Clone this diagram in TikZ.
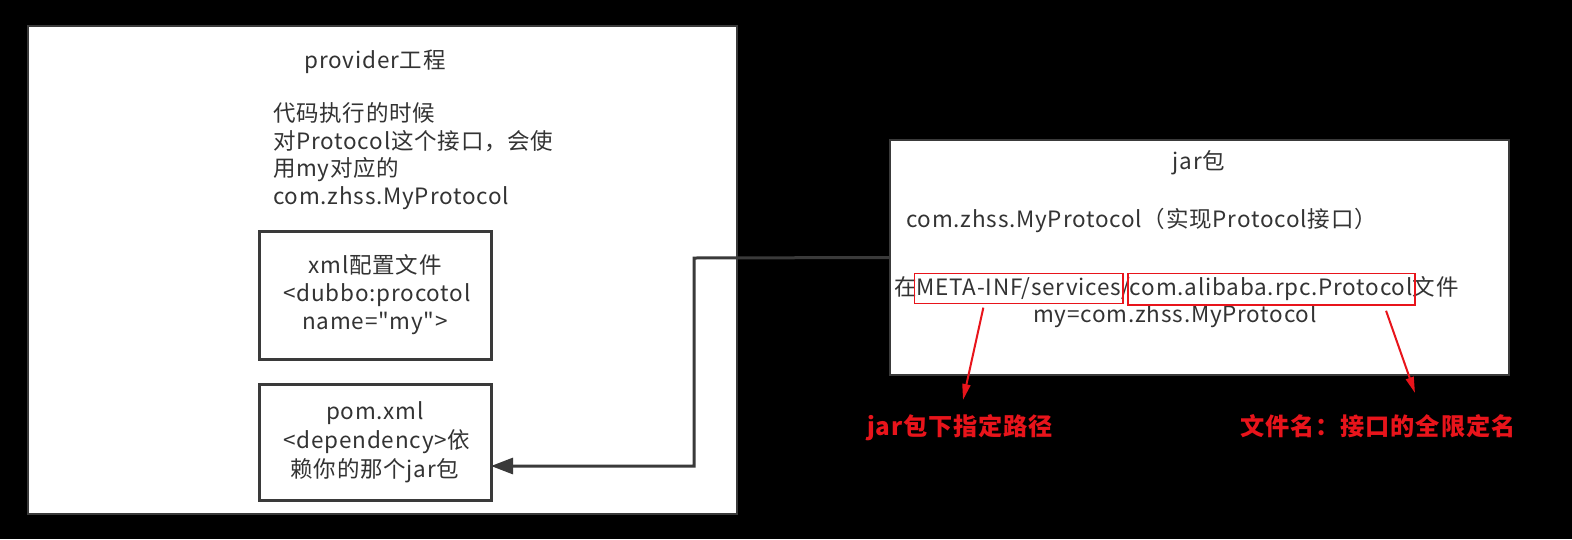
\documentclass[tikz,border=0pt]{standalone}
\usepackage{fontspec}
\setmainfont{Noto Sans CJK SC}[Ligatures=TeXOff,LetterSpace=3.5]
\usetikzlibrary{arrows.meta,calc,fit}
\definecolor{txt}{HTML}{333333}
\definecolor{bord}{HTML}{3A3A3A}
\definecolor{redc}{HTML}{E8141B}
\begin{document}
\begin{tikzpicture}[x=1pt,y=-1pt,
  every node/.style={inner sep=0pt,outer sep=0pt,text=txt,font=\fontsize{22.5}{28}\selectfont},
  panel/.style={draw=bord,fill=white,line width=1.5pt},
  filebox/.style={draw=bord,fill=white,line width=3pt},
  redbox/.style={draw=redc,line width=1.5pt,inner xsep=2pt,inner ysep=4pt},
  redlabel/.style={text=redc,font=\fontsize{24.2}{28}\selectfont\bfseries},
  redarrow/.style={draw=redc,line width=2pt,-{Triangle[length=16pt,width=8pt]}},
  conn/.style={draw=bord,line width=3pt,-{Triangle[length=22pt,width=16pt]}}]
\fill[black] (0,0) rectangle (1572,539);
\useasboundingbox (0,0) rectangle (1572,539);
% provider panel
\draw[panel] (28,26) rectangle (737,514);
\node (provider) at (375,62) {provider工程};
\node[anchor=north west,align=left,font=\fontsize{22.5}{27.5}\selectfont] (desc) at (273,103) {代码执行的时候\\对Protocol这个接口，会使\\用my对应的\\com.zhss.MyProtocol};
\node[filebox,minimum width=232pt,minimum height=128pt,align=center] (xml) at (375,295) {xml配置文件\\\,<dubbo:procotol\\name="my">};
\node[filebox,minimum width=232pt,minimum height=116pt,align=center,font=\fontsize{22.5}{29}\selectfont] (pom) at (375,442) {pom.xml\\\,<dependency>依\\赖你的那个jar包};
% jar panel
\node[panel,line width=2.5pt,minimum width=619pt,minimum height=235pt] (jar) at (1199.5,257.5) {};
\node (jartitle) at (1199,163) {jar包};
\node[anchor=west] (impl) at (906,220) {com.zhss.MyProtocol（实现Protocol接口）};
% path line split in pieces
\node[anchor=west] (p1) at (894,287) {在};
\node[anchor=base west] (p2) at (p1.base east) {META-INF/services};
\node[anchor=base west] (p3) at (p2.base east) {/};
\node[anchor=base west] (p4) at (p3.base east) {com.alibaba.rpc.Protocol};
\node[anchor=base west] (p5) at (p4.base east) {文件};
\node (my) at (1175,316) {my=com.zhss.MyProtocol};
\node[redbox,fit=(p2)] (rb1) {};
\node[redbox,fit=(p4)] (rb2) {};
\node[redlabel] (l1) at (960,428) {jar包下指定路径};
\node[redlabel] (l2) at (1378,426) {文件名：接口的全限定名};
\coordinate (s1) at ($(rb1.south west)!0.33!(rb1.south east)+(0,4)$);
\coordinate (e1) at (963,400);
\coordinate (s2) at ($(rb2.south west)!0.9!(rb2.south east)+(0,6)$);
\coordinate (e2) at (1415,393);
\draw[redarrow] (s1) -- (e1);
\draw[redarrow] (s2) -- (e2);
% connector
\coordinate (bend1) at (694,258);
\coordinate (bend2) at (694,466);
\draw[conn] (jar.west) -- (bend1) -- (bend2) -- ([yshift=-24pt]pom.east);
\end{tikzpicture}
\end{document}
